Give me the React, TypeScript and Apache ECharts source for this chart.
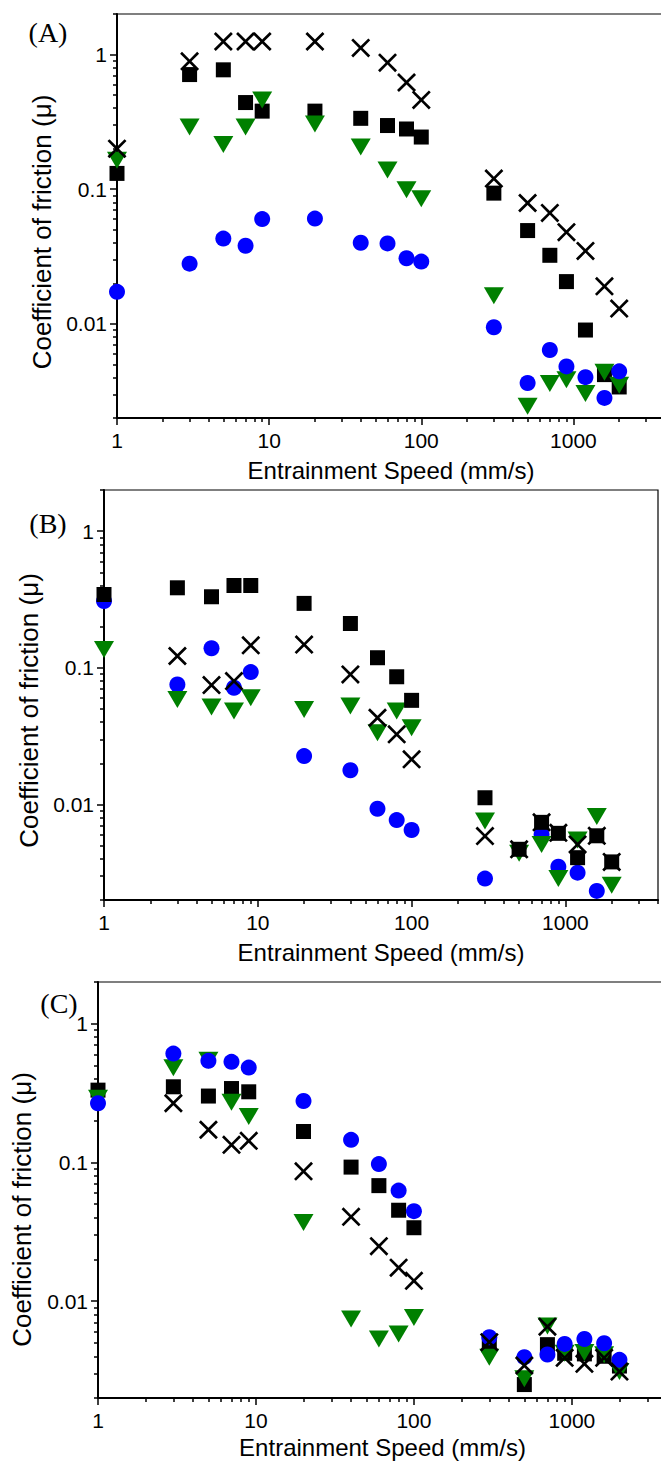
import { useEffect, useRef } from 'react';
import * as echarts from 'echarts';

// Entrainment speeds (mm/s)
const speeds = [1, 3, 5, 7, 9, 20, 40, 60, 80, 100, 300, 500, 700, 900, 1200, 1600, 2000];

// Panel A
const aSquare = [0.131, 0.71, 0.77, 0.44, 0.38, 0.38, 0.336, 0.297, 0.28, 0.244, 0.0935, 0.0493, 0.0323, 0.0206, 0.009, 0.0042, 0.0034];
const aCross = [0.2, 0.89, 1.25, 1.25, 1.25, 1.25, 1.12, 0.87, 0.62, 0.46, 0.12, 0.079, 0.0667, 0.048, 0.0348, 0.019, 0.013];
const aTri = [0.164, 0.29, 0.215, 0.29, 0.46, 0.305, 0.206, 0.139, 0.099, 0.085, 0.0162, 0.00245, 0.0036, 0.00385, 0.00304, 0.00438, 0.0035];
const aCircle = [0.0173, 0.028, 0.043, 0.038, 0.06, 0.0605, 0.04, 0.0396, 0.0307, 0.029, 0.00944, 0.00364, 0.0064, 0.00483, 0.00402, 0.00282, 0.00444];

// Panel B
const bSquare = [0.344, 0.385, 0.331, 0.4, 0.4, 0.296, 0.211, 0.1185, 0.086, 0.0578, 0.0112, 0.0047, 0.0074, 0.00615, 0.00408, 0.0059, 0.0038];
const bCross = [null, 0.122, 0.0747, 0.08, 0.146, 0.148, 0.0895, 0.0431, 0.0326, 0.0214, 0.00587, 0.0047, 0.0074, 0.0062, 0.0051, 0.0059, 0.0038];
const bTri = [0.136, 0.0587, 0.0516, 0.0482, 0.0604, 0.0496, 0.0525, 0.0335, 0.0482, 0.0365, 0.00757, 0.00439, 0.0051, 0.00287, 0.0055, 0.00815, 0.00256];
const bCircle = [0.308, 0.0756, 0.139, 0.0715, 0.093, 0.0226, 0.0178, 0.0093, 0.00769, 0.0065, 0.00287, null, 0.00604, 0.0035, 0.00317, 0.00233, null];

// Panel C
const cSquare = [0.332, 0.351, 0.301, 0.341, 0.323, 0.167, 0.0925, 0.068, 0.0452, 0.0338, 0.00478, 0.0025, 0.00485, 0.0042, 0.00416, 0.004, 0.0034];
const cCross = [null, 0.267, 0.172, 0.134, 0.143, 0.0863, 0.0405, 0.0249, 0.0174, 0.014, 0.00505, 0.00343, 0.00654, 0.0039, 0.00353, 0.0039, 0.0031];
const cTri = [0.29, 0.481, 0.546, 0.271, 0.214, 0.0368, 0.00743, 0.00533, 0.0058, 0.00762, 0.00394, 0.00275, 0.0066, 0.0042, 0.00425, 0.0041, 0.0031];
const cCircle = [0.267, 0.609, 0.54, 0.531, 0.483, 0.277, 0.1455, 0.0972, 0.0626, 0.0445, 0.00548, 0.00394, 0.00412, 0.00491, 0.00533, 0.00496, 0.00377];

// Tick values
const majorX = [1, 10, 100, 1000];
const minorX = [2, 3, 4, 5, 6, 7, 8, 9, 20, 30, 40, 50, 60, 70, 80, 90, 200, 300, 400, 500, 600, 700, 800, 900, 2000, 3000, 4000];
const majorY = [0.01, 0.1, 1];
const minorY = [0.002, 0.003, 0.004, 0.005, 0.006, 0.007, 0.008, 0.009, 0.02, 0.03, 0.04, 0.05, 0.06, 0.07, 0.08, 0.09, 0.2, 0.3, 0.4, 0.5, 0.6, 0.7, 0.8, 0.9, 2];

const panelLabels = ['(A)', '(B)', '(C)'];
const xTitle = 'Entrainment Speed (mm/s)';
const yTitle = 'Coefficient of friction (\u03bc)';

const crossPath = 'path://M0,10 L10,0 L50,40 L90,0 L100,10 L60,50 L100,90 L90,100 L50,60 L10,100 L0,90 L40,50 Z';

const layouts = [
  { grid: { left: 117, top: 14, width: 548, height: 404 }, yGap: 58, yShift: 32, xGap: 40, label: [48, 32] },
  { grid: { left: 104, top: 490, width: 554, height: 410 }, yGap: 58, yShift: 31, xGap: 40, label: [48, 523] },
  { grid: { left: 98, top: 982, width: 569, height: 416 }, yGap: 63, yShift: 39, xGap: 37, label: [59, 1003] },
];

const panelData = [
  { sq: aSquare, cr: aCross, tri: aTri, ci: aCircle, order: ['sq', 'tri', 'ci', 'cr'] },
  { sq: bSquare, cr: bCross, tri: bTri, ci: bCircle, order: ['ci', 'tri', 'sq', 'cr'] },
  { sq: cSquare, cr: cCross, tri: cTri, ci: cCircle, order: ['sq', 'tri', 'ci', 'cr'] },
];

const pairs = (ys: (number | null)[]) =>
  speeds.map((x, i) => [x, ys[i]]).filter((p) => p[1] !== null && p[1] !== undefined);

const FONT = 'Liberation Sans';

export default function App() {
  const ref = useRef<HTMLDivElement>(null);
  useEffect(() => {
    if (!ref.current) return;
    const chart = echarts.init(ref.current, undefined, { renderer: 'svg' });
    const grids: any[] = [];
    const xAxes: any[] = [];
    const yAxes: any[] = [];
    const series: any[] = [];
    const graphics: any[] = [];
    layouts.forEach((L, p) => {
      grids.push({
        ...L.grid, show: true, borderColor: '#000', borderWidth: 1.2, backgroundColor: 'transparent',
        containLabel: false, outerBoundsMode: 'none',
      });
      // main x axis (bottom)
      xAxes.push({
        gridIndex: p, type: 'log', logBase: 10, min: 1, max: 4000, position: 'bottom',
        name: xTitle, nameLocation: 'middle', nameGap: L.xGap,
        nameTextStyle: { fontSize: 24, color: '#000', fontFamily: FONT },
        axisLine: { show: true, onZero: false, lineStyle: { color: '#000', width: 2 } },
        axisTick: { show: true, inside: false, length: 7, customValues: majorX, lineStyle: { color: '#000', width: 1.5 } },
        axisLabel: { show: true, customValues: majorX, margin: 12, fontSize: 21, color: '#000', fontFamily: FONT, formatter: (v: number) => String(v) },
        splitLine: { show: false }, minorTick: { show: false }, minorSplitLine: { show: false },
      });
      // minor x ticks (placed onto the bottom edge)
      xAxes.push({
        gridIndex: p, type: 'log', logBase: 10, min: 1, max: 4000, position: 'top', offset: -L.grid.height,
        axisLine: { show: false, onZero: false },
        axisTick: { show: true, inside: true, length: 4, customValues: minorX, lineStyle: { color: '#000', width: 1.5 } },
        axisLabel: { show: false }, splitLine: { show: false },
      });
      yAxes.push({
        gridIndex: p, type: 'log', logBase: 10, min: 0.002, max: 2, position: 'left',
        name: yTitle, nameLocation: 'middle', nameGap: L.yGap,
        nameTextStyle: { fontSize: 26, color: '#000', fontFamily: FONT, padding: [0, L.yShift, 0, 0] },
        axisLine: { show: true, onZero: false, lineStyle: { color: '#000', width: 2 } },
        axisTick: { show: true, inside: false, length: 7, customValues: majorY, lineStyle: { color: '#000', width: 1.5 } },
        axisLabel: { show: true, customValues: majorY, margin: 10, fontSize: 21, color: '#000', fontFamily: FONT, formatter: (v: number) => String(v) },
        splitLine: { show: false },
      });
      yAxes.push({
        gridIndex: p, type: 'log', logBase: 10, min: 0.002, max: 2, position: 'right', offset: -L.grid.width,
        axisLine: { show: false, onZero: false },
        axisTick: { show: true, inside: true, length: 4, customValues: minorY, lineStyle: { color: '#000', width: 1.5 } },
        axisLabel: { show: false }, splitLine: { show: false },
      });
      const D: any = panelData[p];
      const styles: any = {
        sq: { symbol: 'rect', symbolSize: 15, itemStyle: { color: '#000', opacity: 1 } },
        cr: { symbol: crossPath, symbolSize: 19, itemStyle: { color: '#000', opacity: 1 } },
        tri: { symbol: 'triangle', symbolSize: [20, 17], symbolRotate: 180, itemStyle: { color: '#008000', opacity: 1 } },
        ci: { symbol: 'circle', symbolSize: 16, itemStyle: { color: '#0000ff', opacity: 1 } },
      };
      D.order.forEach((k: string) => {
        series.push({
          type: 'scatter', xAxisIndex: 2 * p, yAxisIndex: 2 * p,
          data: pairs(D[k]), ...styles[k], emphasis: { disabled: true },
        });
      });
      graphics.push({
        type: 'text', x: L.label[0], y: L.label[1],
        style: { text: panelLabels[p], font: '28px "Liberation Serif"', fill: '#000', textAlign: 'center', textVerticalAlign: 'middle' },
      });
    });
    chart.setOption({
      animation: false,
      backgroundColor: '#fff',
      textStyle: { fontFamily: FONT },
      grid: grids,
      xAxis: xAxes,
      yAxis: yAxes,
      series,
      graphic: graphics,
    });
    return () => chart.dispose();
  }, []);
  return <div ref={ref} style={{ position: 'absolute', left: 0, top: 0, width: 661, height: 1461 }} />;
}
